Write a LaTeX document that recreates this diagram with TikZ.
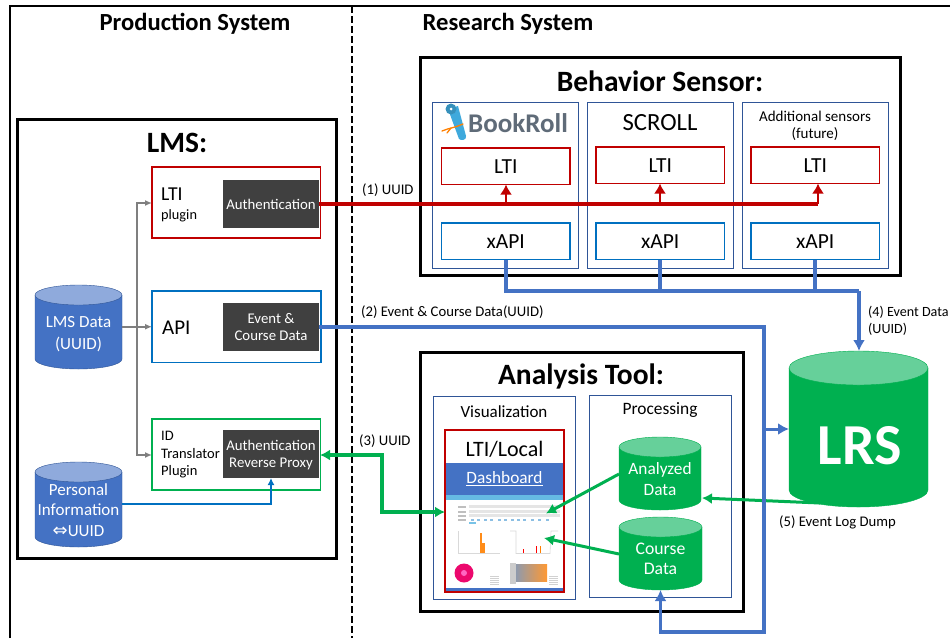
\documentclass[tikz,border=0pt]{standalone}
\usepackage{fontspec}
\setmainfont{Carlito}
\usetikzlibrary{arrows.meta,calc}
\definecolor{cred}{HTML}{C00000}
\definecolor{cblue}{HTML}{4472C4}
\definecolor{cbright}{HTML}{0070C0}
\definecolor{cgreen}{HTML}{00B050}
\definecolor{cdark}{HTML}{404040}
\definecolor{cframe}{HTML}{2F5597}
\definecolor{cgray}{HTML}{7F7F7F}
\definecolor{lgreen}{HTML}{66D09A}
\definecolor{lblue}{HTML}{8FAADC}
\definecolor{cbook}{HTML}{5F6B78}
\definecolor{cscroll}{HTML}{3FA9DC}
\tikzset{
  base/.style={inner sep=0pt,outer sep=0pt,align=center},
  bigbox/.style={base,draw=black,line width=3pt},
  framebox/.style={base,draw=cframe,line width=1pt},
  redbox/.style={base,draw=cred,line width=1.8pt},
  bluebox/.style={base,draw=cbright,line width=1.8pt},
  greenbox/.style={base,draw=cgreen,line width=1.8pt},
  darkbox/.style={base,fill=cdark,text=white,font=\fontsize{14.8}{17}\selectfont},
  title/.style={font=\bfseries\fontsize{29.5}{32}\selectfont},
  systitle/.style={inner sep=0pt,font=\bfseries\fontsize{24.6}{27}\selectfont},
  lab/.style={inner sep=0pt,anchor=west,align=left,font=\fontsize{14.7}{17}\selectfont},
  plain/.style={inner sep=0pt,align=center},
  boxtext/.style={font=\fontsize{21.5}{24}\selectfont},
  cyltext/.style={base,text=white},
  grayarrow/.style={draw=cgray,line width=1.6pt,-{Latex[length=7pt,width=6pt]}},
  redarrow/.style={draw=cred,line width=3.6pt},
  redtip/.style={draw=cred,line width=2.8pt,-{Latex[length=10pt,width=12pt]}},
  bluearrow/.style={draw=cblue,line width=3.6pt},
  bluetip/.style={draw=cblue,line width=3.6pt,-{Latex[length=11pt,width=12pt]}},
  thinblue/.style={draw=cbright,line width=1.9pt,-{Latex[length=7pt,width=7pt]}},
  greenarrow/.style={draw=cgreen,line width=3pt,-{Latex[length=10pt,width=11pt]}},
  greenboth/.style={draw=cgreen,line width=3.4pt,{Latex[length=10pt,width=11pt]}-{Latex[length=10pt,width=11pt]}},
}
% \bx{name}{x1}{y1}{x2}{y2}{style}{text}
\newcommand{\bx}[7]{\node[#6,minimum width={(#4)-(#2)},minimum height={(#5)-(#3)},at={({((#2)+(#4))/2},{((#3)+(#5))/2})}] (#1) {#7};}
% \cyl{name}{x1}{y1}{x2}{y2}{ry}{body}{top}{edge}
\newcommand{\cyl}[9]{%
  \fill[#7,draw=#9] (#2,{(#3)+(#6)}) -- (#2,{(#5)-(#6)}) arc[start angle=180,end angle=0,x radius={((#4)-(#2))/2},y radius=#6] -- (#4,{(#3)+(#6)}) -- cycle;
  \fill[#8,draw=#9] ({((#2)+(#4))/2},{(#3)+(#6)}) ellipse[x radius={((#4)-(#2))/2},y radius=#6];
  \node[base,minimum width={(#4)-(#2)},minimum height={(#5)-(#3)},at={({((#2)+(#4))/2},{((#3)+(#5))/2})}] (#1) {};}
\begin{document}
\begin{tikzpicture}[x=1pt,y=-1pt]
\useasboundingbox (0,0) rectangle (950,638);
\fill[white] (0,0) rectangle (950,638);
% outer frame
\draw[black,line width=2.4pt] (10,638) -- (10,6) -- (950,6);
\draw[black,line width=2.6pt,dash pattern=on 7pt off 3pt] (352,6) -- (352,638);
\node[systitle] (prodtitle) at (195,24) {Production System};
\node[systitle] (restitle) at (508,24) {Research System};

% LMS
\bx{lms}{17.5}{119}{336.5}{558.5}{bigbox}{}
\node[title] (lmstitle) at (177,143) {LMS:};
\bx{ltibox}{152}{167}{320.5}{238}{redbox}{}
\bx{auth}{223}{180}{319}{228}{darkbox}{Authentication}
\node[inner sep=0pt,anchor=west,font=\fontsize{19.7}{22}\selectfont] (ltit) at (161,194) {LTI};
\node[inner sep=0pt,anchor=west,font=\fontsize{14.3}{16}\selectfont] (plug) at (161,216) {plugin};
\bx{apibox}{152}{291}{321}{362.5}{bluebox}{}
\bx{evt}{223}{303}{319}{351}{darkbox}{Event \&\\Course Data}
\node[inner sep=0pt,anchor=west,font=\fontsize{21}{23}\selectfont] (apit) at (162,328) {API};
\bx{idbox}{152}{419}{320.5}{490}{greenbox}{}
\bx{proxy}{223}{430}{319}{478}{darkbox}{}
\node[plain,text=white,font=\fontsize{14.8}{17}\selectfont] (proxyt) at (271,455) {Authentication\\Reverse Proxy};
\node[inner sep=0pt,anchor=west,align=left,font=\fontsize{14.5}{17.5}\selectfont] (idt) at (161,455) {ID\\Translator\\Plugin};
\cyl{lmsdata}{35}{285}{122}{369}{10}{cblue}{lblue}{cframe}
\node[cyltext,font=\fontsize{17}{21.5}\selectfont] (lmsdatat) at (78.5,334) {LMS Data\\(UUID)};
\cyl{pers}{35}{462}{122}{547}{10}{cblue}{lblue}{cframe}
\node[cyltext,font=\fontsize{17}{20.5}\selectfont] (perst) at (78.5,510) {Personal\\Information\\{\fontsize{18}{14}\selectfont\fontspec{DejaVu Sans}⇔}UUID};

% LMS internal connectors
\coordinate (trunktop) at (137,203);
\coordinate (trunkbot) at (137,455);
\draw[grayarrow] (137,327) -- (trunktop) -- (ltibox.west |- trunktop);
\draw[grayarrow] (137,327) -- (trunkbot) -- (idbox.west |- trunkbot);
\draw[grayarrow] (lmsdata.east |- apibox.west) -- (apibox.west);
\draw[thinblue] (pers.east |- 0,504) -| (proxy.south);

% Behavior sensor
\bx{bs}{420}{57}{900}{275}{bigbox}{}
\node[title] (bstitle) at (660,81) {Behavior Sensor:};
\bx{s1}{432.5}{102}{578}{268}{framebox}{}
\bx{s2}{587.5}{102}{733}{268}{framebox}{}
\bx{s3}{742.5}{102}{888}{268}{framebox}{}
\bx{l1}{441.5}{148}{570}{184.5}{redbox}{}
\bx{l2}{596}{147}{724.5}{183.5}{redbox}{}
\bx{l3}{751}{147}{879.5}{183.5}{redbox}{}
\node[plain,boxtext] at (l1) {LTI};
\node[plain,boxtext] at (l2) {LTI};
\node[plain,boxtext] at (l3) {LTI};
\bx{x1}{441.5}{223}{570}{259.5}{bluebox}{}
\bx{x2}{596}{223}{724.5}{259.5}{bluebox}{}
\bx{x3}{751}{223}{879.5}{259.5}{bluebox}{}
\node[plain,boxtext] at (x1) {xAPI};
\node[plain,boxtext] at (x2) {xAPI};
\node[plain,boxtext] at (x3) {xAPI};
% BookRoll logo
\fill[cscroll] (448,109) -- (458,106) -- (466,136) .. controls (467,140) and (461,141) .. (459,139) -- cycle;
\fill[cscroll!85!black] (451,109) circle[radius=5.5];
\fill[white] (451,109) circle[radius=1.5];
\draw[orange,line width=1.3pt,line cap=round] (442,131) .. controls (449,128) and (454,128) .. (463,124);
\draw[orange,line width=1.3pt,line cap=round] (451,128) -- (447,133);
\node[inner sep=0pt,anchor=west,text=cbook,font=\fontsize{27}{29}\bfseries\selectfont] (bookroll) at (468,123.5) {BookRoll};
\node[plain,font=\fontsize{24.7}{27}\selectfont] (scroll) at (660,123) {SCROLL};
\node[plain,font=\fontsize{15}{17}\selectfont] (addl) at (815,125.5) {Additional sensors\\(future)};

% Analysis Tool
\bx{at}{420}{352}{743}{611}{bigbox}{}
\node[title] (attitle) at (581,376) {Analysis Tool:};
\bx{vis}{433}{396}{575}{599}{framebox}{}
\bx{proc}{589}{395}{731}{597}{framebox}{}
\node[plain,font=\fontsize{17}{19}\selectfont] (vist) at (504,412) {Visualization};
\node[plain,font=\fontsize{17.4}{19}\selectfont] (proct) at (660,410) {Processing};
\bx{dash}{445}{430}{564}{592}{redbox}{}
\node[plain,font=\fontsize{22}{24}\selectfont] (ltilocal) at (504.5,449) {LTI/Local};
\bx{dbb}{446}{463}{563}{495}{base,fill=cblue,text=white,font=\fontsize{17.3}{20}\selectfont}{\underline{Dashboard}}
% dashboard screenshot
\fill[cscroll!80] (446,495) rectangle (563,500);
\fill[cblue] (446,588) rectangle (563,590.5);
\foreach \yy in {505,510,514} \fill[black!10] (469,\yy) rectangle (560,{\yy+3});
\foreach \yy in {506,511,515,519} \fill[black!25] (458,\yy) rectangle (466,{\yy+1.5});
\foreach \xx in {471,477,484,490,498,504,511,517,523,531,538,546} \fill[cbright!45] (\xx,518.5) rectangle ({\xx+3},520.5);
\fill[cscroll!70] (469,521.5) rectangle (476,524);
\draw[black!15,line width=0.6pt] (458,531) -- (458,553.5) -- (500,553.5);
\fill[orange!90] (480,533) rectangle (482,553);
\fill[orange!90] (482,543) rectangle (485,553);
\draw[black!15,line width=0.6pt] (510,531) -- (516,531) -- (516,553.5) -- (550,553.5) -- (551,531) -- (558,531);
\fill[red] (523,549) rectangle (524,553);
\fill[red] (536,546) rectangle (537,553);
\fill[orange] (540,546) rectangle (541,553);
\fill[magenta!70!red] (464,573) circle[radius=9.5];
\fill[red!40!magenta!60] (464,573) circle[radius=3];
\foreach \yy in {576,578,580,582,584} \fill[black!18] (490,\yy) rectangle (499,{\yy+1});
\foreach \yy in {576,578,580,582,584} \fill[black!18] (549,\yy) rectangle (558,{\yy+1});
\fill[black!20] (510,563) rectangle (516,584);
\shade[left color=cframe!40!gray!70,right color=orange!80] (516,564) rectangle (547,581);
\cyl{analyzed}{619}{437}{701}{510}{10}{cgreen}{lgreen}{cgreen}
\node[cyltext,font=\fontsize{17.3}{21}\selectfont] (analyzedt) at (660,479) {Analyzed\\Data};
\cyl{course}{619}{517}{702}{590}{10}{cgreen}{lgreen}{cgreen}
\node[cyltext,font=\fontsize{17.7}{20}\selectfont] (coursete) at (660.5,559) {Course\\Data};

% LRS
\coordinate (ldump) at (820,503);
\draw[greenarrow] (ldump) -- (702,498);
\cyl{lrs}{789}{351}{928}{507}{17}{cgreen}{lgreen}{cgreen}
\node[cyltext,font=\bfseries\fontsize{58}{60}\selectfont] (lrst) at (860,446) {LRS};

% Connectors
\coordinate (bend3a) at (382,455);
\coordinate (bend3b) at (382,512);
\coordinate (dashin) at (445,512);
\draw[greenboth] (320,455) -- (bend3a) -- (bend3b) -- (dashin);
\coordinate (t1) at (506,204);
\coordinate (t2) at (660,204);
\coordinate (t3) at (818,204);
\draw[redarrow] (auth.east |- t1) -- (t3);
\draw[redtip] (t1) -- (t1 |- l1.south);
\draw[redtip] (t2) -- (t2 |- l2.south);
\draw[redtip] (t3) -- (t3 |- l3.south);
\coordinate (xj1) at (506,291);
\coordinate (xj2) at (660,291);
\coordinate (xj3) at (815,291);
\coordinate (xj4) at (859,291);
\draw[bluearrow] (x1.south -| xj1) -- (xj1) -- (xj4);
\draw[bluearrow] (x2.south -| xj2) -- (xj2);
\draw[bluearrow] (x3.south -| xj3) -- (xj3);
\draw[bluetip] (xj4) -- (xj4 |- lrs.north);
\coordinate (c2a) at (764,327);
\coordinate (c2b) at (764,632);
\coordinate (c2c) at (660.5,632);
\coordinate (c2d) at (764,429);
\draw[bluetip] (evt.east |- c2a) -- (c2a) -- (c2b) -- (c2c) -- (course.south);
\draw[bluetip,line width=3pt] (c2d) -- (c2d -| lrs.west);
\coordinate (da1) at (546,513.5);
\coordinate (da2) at (544,538);
\draw[greenarrow] (analyzed.west |- 0,474) -- (da1);
\draw[greenarrow] (course.west |- 0,554) -- (da2);

\node[lab] (c1) at (362,190) {(1) UUID};
\node[lab] (c2) at (361,312) {(2) Event \& Course Data(UUID)};
\node[lab] (c3) at (359,441) {(3) UUID};
\node[lab,font=\fontsize{14.1}{17}\selectfont] (c4) at (868,321) {(4) Event Data\\(UUID)};
\node[lab] (c5) at (779,522) {(5) Event Log Dump};
\end{tikzpicture}
\end{document}
